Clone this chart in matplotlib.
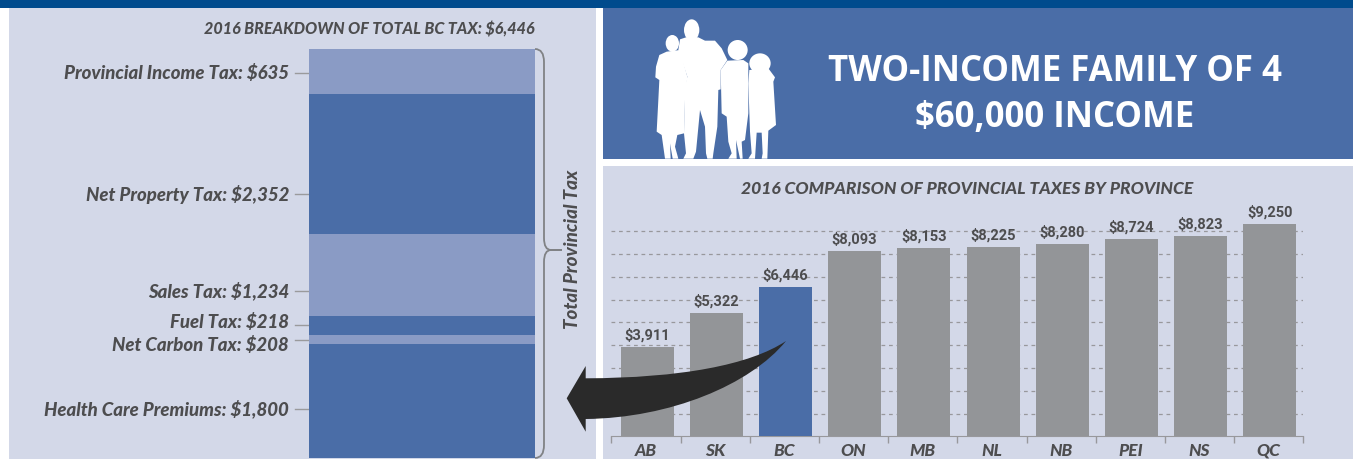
import matplotlib
matplotlib.use("Agg")
import matplotlib.pyplot as plt
from matplotlib.patches import Rectangle, Ellipse, Polygon, PathPatch
from matplotlib.path import Path

W, H = 1353, 459

# comparison chart
provinces = ["AB", "SK", "BC", "ON", "MB", "NL", "NB", "PEI", "NS", "QC"]
province_tax = [3911, 5322, 6446, 8093, 8153, 8225, 8280, 8724, 8823, 9250]
# bar heights as measured against the gridlines, the source is not exactly to scale
bar_heights = [3920, 5410, 6555, 8134, 8266, 8310, 8440, 8660, 8790, 9320]
grid_values = [1000, 2000, 3000, 4000, 5000, 6000, 7000, 8000, 9000]

# BC breakdown, drawn heights (not to scale with the labels)
parts = ["Provincial Income Tax", "Net Property Tax", "Sales Tax", "Fuel Tax",
         "Net Carbon Tax", "Health Care Premiums"]
part_tax = [635, 2352, 1234, 218, 208, 1800]
part_heights = [45, 140, 82, 19, 9, 114]

PANEL = "#d3d8e8"
BLUE = "#4a6da7"
LIGHT = "#8a9bc5"
GREY = "#939598"
TEXT = "#4d4d4f"
TOP = "#004b8d"
BOLD = dict(family=["Lato", "DejaVu Sans"], weight=900, style="italic", color=TEXT)


def px_axes(fig, left, top, right, bottom, z):
    a = fig.add_axes([left / W, 1 - bottom / H, (right - left) / W, (bottom - top) / H])
    a.set_zorder(z)
    a.patch.set_alpha(0)
    return a


fig = plt.figure(figsize=(W / 100, H / 100), dpi=100, facecolor="white")

# overlay in pixels for panels and annotation
bg = px_axes(fig, 0, 0, W, H, 0)
bg.set_xlim(0, W)
bg.set_ylim(H, 0)
bg.axis("off")
bg.add_patch(Rectangle((9, 8), 587, 451, color=PANEL, lw=0))
bg.add_patch(Rectangle((603, 166), 750, 293, color=PANEL, lw=0))
bg.add_patch(Rectangle((603, 8), 750, 151, color=BLUE, lw=0))
bg.add_patch(Rectangle((0, 0), W, 8, color=TOP, lw=0))

# family silhouette, outline traced in a 3x crop
def sx(p):
    return [(600 + x / 3, y / 3) for x, y in p]

people = [
    [(200, 155), (178, 165), (168, 200), (166, 232), (178, 240), (175, 300), (170, 395), (185, 405),
     (195, 476), (212, 476), (210, 430), (218, 476), (235, 476), (225, 440), (232, 405), (252, 400),
     (255, 300), (262, 230), (240, 150)],
    [(258, 112), (240, 118), (235, 150), (262, 230), (255, 260), (252, 400), (258, 460), (250, 476),
     (280, 476), (288, 455), (300, 330), (315, 380), (318, 460), (322, 476), (338, 476), (340, 460),
     (352, 380), (355, 270), (362, 268), (362, 210), (382, 180), (365, 145), (345, 122), (315, 122),
     (295, 112)],
    [(382, 182), (362, 210), (365, 340), (380, 350), (385, 425), (395, 460), (385, 476), (410, 476),
     (408, 420), (420, 476), (428, 476), (425, 425), (435, 420), (445, 340), (445, 250), (445, 190),
     (430, 180)],
    [(448, 210), (445, 250), (450, 395), (455, 460), (445, 476), (465, 476), (470, 398), (485, 398),
     (488, 460), (485, 476), (502, 476), (505, 392), (528, 375), (520, 245), (525, 232), (505, 205)],
]
for p in people:
    bg.add_patch(Polygon(sx(p), closed=True, color="white", lw=0))
heads = [(217, 130, 40, 50), (275, 90, 46, 64), (413, 150, 60, 60), (480, 190, 64, 60)]
for hx, hy, hw, hh in heads:
    bg.add_patch(Ellipse((600 + hx / 3, hy / 3), hw / 3, hh / 3, color="white", lw=0))

bg.text(1055, 72, "TWO-INCOME FAMILY OF 4", color="white", fontsize=25, weight="bold",
        family="Open Sans", ha="center", va="center")
bg.text(1055, 118, "$60,000 INCOME", color="white", fontsize=25, weight="bold",
        family="Open Sans", ha="center", va="center")

# left titles and labels
bg.text(535, 29, "2016 BREAKDOWN OF TOTAL BC TAX: $6,446", fontsize=11.6, ha="right", va="center", **BOLD)
label_y = [73, 194, 291, 322, 345, 409]
leader_y = [73, 194, 291, 325, 340, 409]
for name, val, ly, ty in zip(parts, part_tax, leader_y, label_y):
    bg.text(289, ty, f"{name}: ${val:,}", fontsize=13.4, ha="right", va="center", **BOLD)
    bg.plot([295, 309], [ly, ly], color="#9a9a9c", lw=1)

# stacked column
st = px_axes(fig, 309, 49, 535, 458, 1)
st.axis("off")
bottom = 0
for i, h in enumerate(part_heights):
    st.bar(0.5, h, 1.0, bottom=bottom, color=LIGHT if i % 2 == 0 else BLUE)
    bottom += h
st.set_xlim(0, 1)
st.set_ylim(bottom, 0)

# brace
brace = Path([(535, 49), (544, 49), (544, 62), (544, 238), (544, 250), (551, 250), (562, 250),
              (551, 250), (544, 250), (544, 262), (544, 445), (544, 458), (535, 458)],
             [Path.MOVETO, Path.CURVE3, Path.CURVE3, Path.LINETO, Path.CURVE3, Path.CURVE3, Path.LINETO,
              Path.LINETO, Path.CURVE3, Path.CURVE3, Path.LINETO, Path.CURVE3, Path.CURVE3])
bg.add_patch(PathPatch(brace, fc="none", ec="#808285", lw=1.3))
bg.text(572, 249, "Total Provincial Tax", rotation=90, fontsize=13.5, ha="center", va="center", **BOLD)

# comparison bars
ax = px_axes(fig, 611.3, 200, 1303.3, 436.3, 1)
x = [i + 0.5 for i in range(len(provinces))]
ax.set_xlim(0, len(provinces))
ax.set_ylim(0, 236.3 / 22.78 * 1000)
colors = [BLUE if p == "BC" else GREY for p in provinces]
ax.bar([i + 0.016 for i in x], bar_heights, 0.766, color=colors, zorder=3)
for v in grid_values:
    ax.axhline(v, color="#98989c", lw=0.9, ls=(0, (3, 3)), zorder=1)
for xi, v, lab in zip(x, bar_heights, province_tax):
    ax.annotate(f"${lab:,}", (xi + 0.016, v), xytext=(0, 3), textcoords="offset points", ha="center", va="bottom",
                fontsize=10.5, weight="bold", color=TEXT, family="Roboto")
for s in ["top", "left", "right"]:
    ax.spines[s].set_visible(False)
ax.spines["bottom"].set_color("#98989c")
ax.set_yticks([])
ax.set_xticks(range(len(provinces) + 1))
ax.set_xticklabels([])
ax.tick_params(axis="x", length=5, color="#98989c", width=1)
for xi, p in zip(x, provinces):
    bg.text(611.3 + xi * 69.2, 450.5, p, fontsize=12.5, ha="center", va="center", **BOLD)
bg.text(967, 189, "2016 COMPARISON OF PROVINCIAL TAXES BY PROVINCE", fontsize=12.6, ha="center", va="center", **BOLD)

# arrow from BC to the breakdown
top = px_axes(fig, 0, 0, W, H, 3)
top.set_xlim(0, W)
top.set_ylim(H, 0)
top.axis("off")
arrow = Path([(566.7, 398.3), (585.7, 366), (585.7, 378.3),
              (680, 378), (750, 365), (786, 341),
              (750, 385), (670, 418), (585.7, 419),
              (585.7, 431.7), (566.7, 398.3)],
             [Path.MOVETO, Path.LINETO, Path.LINETO,
              Path.CURVE4, Path.CURVE4, Path.CURVE4,
              Path.CURVE4, Path.CURVE4, Path.CURVE4,
              Path.LINETO, Path.CLOSEPOLY])
top.add_patch(PathPatch(arrow, fc="#2a2a2a", ec="none"))

fig.savefig("out.png", dpi=100)
